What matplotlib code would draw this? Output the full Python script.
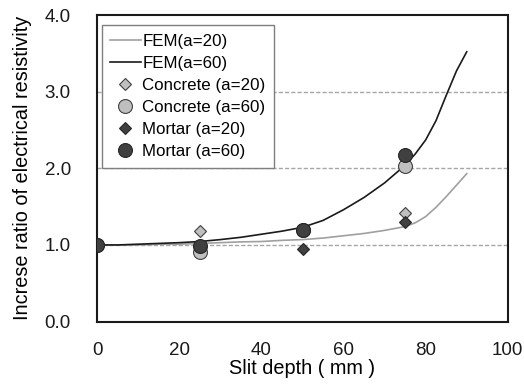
import matplotlib
matplotlib.use("Agg")
import matplotlib.pyplot as plt

plt.rcParams['font.family'] = ['Liberation Sans', 'DejaVu Sans']

# FEM curves
fem_x = [0, 5, 10, 15, 20, 25, 30, 35, 40, 45, 50, 55, 60, 65, 70, 75,
         77.5, 80, 82.5, 85, 87.5, 90]
fem_a60 = [1.0, 1.0, 1.01, 1.02, 1.03, 1.045, 1.07, 1.10, 1.14, 1.18, 1.23, 1.32,
           1.46, 1.62, 1.81, 2.04, 2.19, 2.37, 2.62, 2.95, 3.27, 3.52]
fem_a20 = [1.0, 1.0, 1.0, 1.01, 1.01, 1.02, 1.03, 1.04, 1.045, 1.06, 1.07, 1.09,
           1.12, 1.15, 1.19, 1.24, 1.29, 1.37, 1.49, 1.63, 1.78, 1.93]

# measured points
depth = [0, 25, 50, 75]
concrete_a20 = [1.0, 1.18, 1.19, 1.42]
concrete_a60 = [1.0, 0.91, 1.19, 2.03]
mortar_a20 = [1.0, 0.97, 0.95, 1.30]
mortar_a60 = [1.0, 0.99, 1.19, 2.17]

yticks = [0, 1, 2, 3, 4]
xticks = [0, 20, 40, 60, 80, 100]

fig = plt.figure(figsize=(5.24, 3.91), dpi=100)
ax = fig.add_axes([0.1857, 0.1775, 0.7833, 0.7841])

for y in [1, 2, 3]:
    ax.axhline(y, color='#a6a6a6', lw=1.0, ls=(0, (3, 1.5)), zorder=0)

ax.plot(fem_x, fem_a20, color='#a0a0a0', lw=1.2, label='FEM(a=20)', zorder=2)
ax.plot(fem_x, fem_a60, color='#1a1a1a', lw=1.2, label='FEM(a=60)', zorder=2)

ax.plot(depth, concrete_a20, ls='none', marker='D', ms=6.5, mfc='#bfbfbf',
        mec='#404040', mew=0.8, label='Concrete (a=20)', zorder=3)
ax.plot(depth, concrete_a60, ls='none', marker='o', ms=10, mfc='#bfbfbf',
        mec='#404040', mew=0.8, label='Concrete (a=60)', zorder=3)
ax.plot(depth, mortar_a20, ls='none', marker='D', ms=6.5, mfc='#404040',
        mec='#262626', mew=0.8, label='Mortar (a=20)', zorder=3)
ax.plot(depth, mortar_a60, ls='none', marker='o', ms=10, mfc='#404040',
        mec='#262626', mew=0.8, label='Mortar (a=60)', zorder=3)

ax.set_xlim(0, 100)
ax.set_ylim(0, 4)
ax.set_xticks(xticks)
ax.set_yticks(yticks)
ax.set_yticklabels([f'{v:.1f}' for v in yticks])
ax.tick_params(length=0, labelsize=13.5, colors='#1a1a1a')
ax.tick_params(axis='y', pad=19)
ax.tick_params(axis='x', pad=15)
for s in ax.spines.values():
    s.set_linewidth(1.5)
    s.set_color('#1a1a1a')

ax.set_xlabel('Slit depth ( mm )', fontsize=14.3, labelpad=0)
ax.set_ylabel('Increse ratio of electrical resistivity', fontsize=14.3, labelpad=9)

leg = ax.legend(loc='upper left', bbox_to_anchor=(0.0107, 0.967), borderaxespad=0,
                fontsize=12.2, fancybox=False, framealpha=1, edgecolor='#7f7f7f',
                handlelength=1.8, handletextpad=0.1, labelspacing=0.42,
                borderpad=0.5)
leg.get_frame().set_linewidth(1.0)
leg.set_zorder(5)

fig.savefig('out.png', dpi=100)
